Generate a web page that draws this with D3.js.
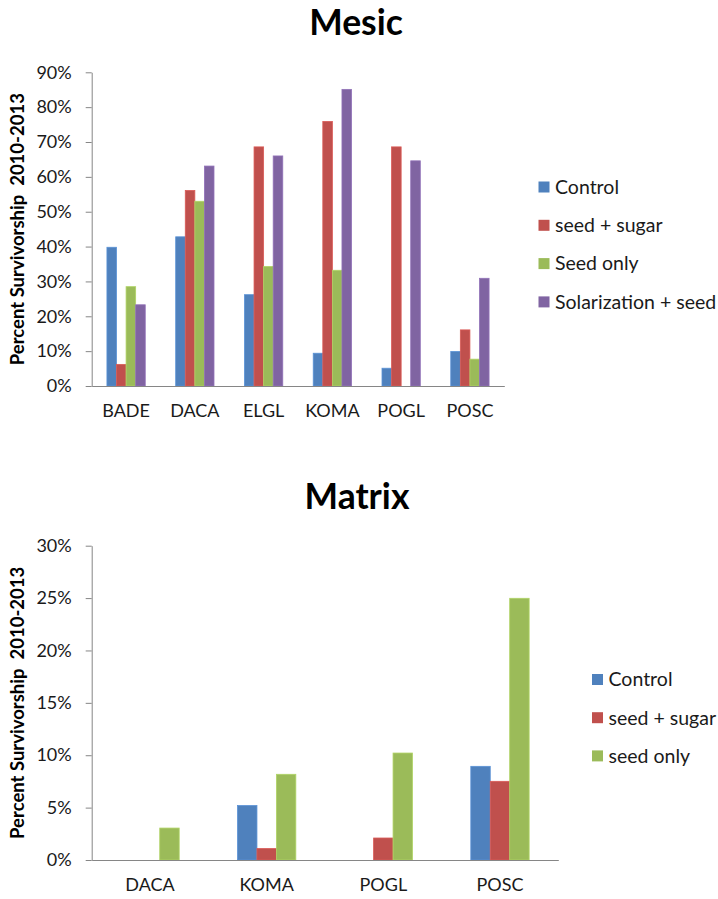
<!DOCTYPE html>
<html>
<head>
<meta charset="utf-8">
<script src="https://cdn.jsdelivr.net/npm/d3@7/dist/d3.min.js"></script>
<style>
  html, body { margin: 0; padding: 0; background: #fff; }
  svg { display: block; font-family: Lato, "Open Sans", sans-serif; }
</style>
</head>
<body>
<svg id="chart" width="718" height="899"></svg>
<script>
// Mesic plots: survivorship by species and treatment
const mesicSpecies = ["BADE", "DACA", "ELGL", "KOMA", "POGL", "POSC"];
const mesicSeries = ["Control", "seed + sugar", "Seed only", "Solarization + seed"];
const mesicControl     = [0.398, 0.428, 0.262, 0.094, 0.051, 0.099];
const mesicSeedSugar   = [0.062, 0.561, 0.686, 0.759, 0.686, 0.161];
const mesicSeedOnly    = [0.285, 0.530, 0.343, 0.332, 0.000, 0.077];
const mesicSolarSeed   = [0.233, 0.631, 0.660, 0.851, 0.646, 0.309];
const mesicTicks = [0, 0.1, 0.2, 0.3, 0.4, 0.5, 0.6, 0.7, 0.8, 0.9];

// Matrix plots
const matrixSpecies = ["DACA", "KOMA", "POGL", "POSC"];
const matrixSeries = ["Control", "seed + sugar", "seed only"];
const matrixControl   = [0.000, 0.052, 0.000, 0.0894];
const matrixSeedSugar = [0.000, 0.011, 0.021, 0.0751];
const matrixSeedOnly  = [0.0305, 0.0818, 0.1021, 0.2498];
const matrixTicks = [0, 0.05, 0.10, 0.15, 0.20, 0.25, 0.30];

const palette = ["#4F81BD", "#C0504D", "#9BBB59", "#8064A2"];
const yTitle = "Percent Survivorship  2010-2013";

const svg = d3.select("#chart");

function drawPanel(opt) {
  const g = svg.append("g");
  const x = d3.scaleBand()
    .domain(opt.categories)
    .range([opt.left, opt.right])
    .paddingInner(opt.gap)
    .paddingOuter(opt.gap / 2);
  const xs = d3.scaleBand()
    .domain(opt.series)
    .range([0, x.bandwidth()])
    .padding(0);
  const y = d3.scaleLinear()
    .domain([0, opt.max])
    .range([opt.bottom, opt.top]);

  // title
  g.append("text")
    .attr("x", opt.titleX)
    .attr("y", opt.titleY)
    .attr("text-anchor", "middle")
    .attr("font-size", 35.5)
    .attr("font-weight", "bold")
    .attr("fill", "#000")
    .text(opt.title);

  // bars
  const rows = opt.categories.map((c, i) => ({
    cat: c,
    vals: opt.series.map((s, j) => ({ s, j, v: opt.values[j][i] }))
  }));
  const grp = g.selectAll("g.cat").data(rows).join("g")
    .attr("class", "cat")
    .attr("transform", d => `translate(${x(d.cat)},0)`);
  grp.selectAll("rect").data(d => d.vals).join("rect")
    .attr("x", d => xs(d.s))
    .attr("y", d => y(d.v))
    .attr("width", xs.bandwidth())
    .attr("height", d => y(0) - y(d.v))
    .attr("fill", d => palette[d.j])
    .attr("stroke", d => d3.color(palette[d.j]).brighter(0.35))
    .attr("stroke-width", d => d.v > 0 ? 0.8 : 0);

  // y axis
  const yAxis = d3.axisLeft(y)
    .tickValues(opt.ticks)
    .tickFormat(d3.format(".0%"))
    .tickSize(6)
    .tickSizeOuter(0)
    .tickPadding(14);
  const ya = g.append("g")
    .attr("transform", `translate(${opt.left},0)`)
    .call(yAxis);
  ya.select(".domain").attr("stroke", "#868686");
  ya.selectAll(".tick line").attr("stroke", "#868686");
  ya.selectAll(".tick text")
    .attr("font-size", 18)
    .attr("fill", "#1a1a1a")
    .attr("font-family", "Lato, sans-serif");

  // x axis baseline and category labels
  const xa = d3.axisBottom(x).tickSize(0).tickSizeOuter(0).tickPadding(18);
  const xg = g.append("g")
    .attr("transform", `translate(0,${opt.bottom})`)
    .call(xa);
  xg.select(".domain").attr("stroke", "#868686");
  xg.selectAll(".tick text")
    .attr("font-size", 18)
    .attr("fill", "#1a1a1a")
    .attr("font-family", "Lato, sans-serif");

  // y axis title
  g.append("text")
    .attr("transform", `translate(${opt.yTitleX},${(opt.top + opt.bottom) / 2}) rotate(-90)`)
    .attr("text-anchor", "middle")
    .attr("font-size", 18.5)
    .attr("font-weight", "bold")
    .attr("fill", "#000")
    .style("white-space", "pre")
    .text(yTitle);

  // legend
  const lg = g.append("g");
  const items = lg.selectAll("g").data(opt.series).join("g")
    .attr("transform", (d, i) => `translate(${opt.legendX},${opt.legendY + i * opt.legendStep})`);
  items.append("rect")
    .attr("x", 0).attr("y", -5.5)
    .attr("width", 11).attr("height", 11)
    .attr("fill", (d, i) => palette[i]);
  items.append("text")
    .attr("x", opt.legendTextDx)
    .attr("y", 0)
    .attr("dy", "0.35em")
    .attr("font-size", 19.5)
    .attr("fill", "#1a1a1a")
    .text(d => d);
}

drawPanel({
  title: "Mesic", titleX: 356, titleY: 35,
  categories: mesicSpecies, series: mesicSeries,
  values: [mesicControl, mesicSeedSugar, mesicSeedOnly, mesicSolarSeed],
  ticks: mesicTicks, max: 0.9,
  left: 91.7, right: 504.3, top: 72.3, bottom: 386, gap: 0.443,
  yTitleX: 24,
  legendX: 538.5, legendY: 187, legendStep: 38.3, legendTextDx: 16.5
});

drawPanel({
  title: "Matrix", titleX: 357, titleY: 509,
  categories: matrixSpecies, series: matrixSeries,
  values: [matrixControl, matrixSeedSugar, matrixSeedOnly],
  ticks: matrixTicks, max: 0.3,
  left: 91.7, right: 558.3, top: 545.7, bottom: 860, gap: 0.5,
  yTitleX: 24,
  legendX: 592, legendY: 679.5, legendStep: 38.2, legendTextDx: 16.5
});
</script>
</body>
</html>
